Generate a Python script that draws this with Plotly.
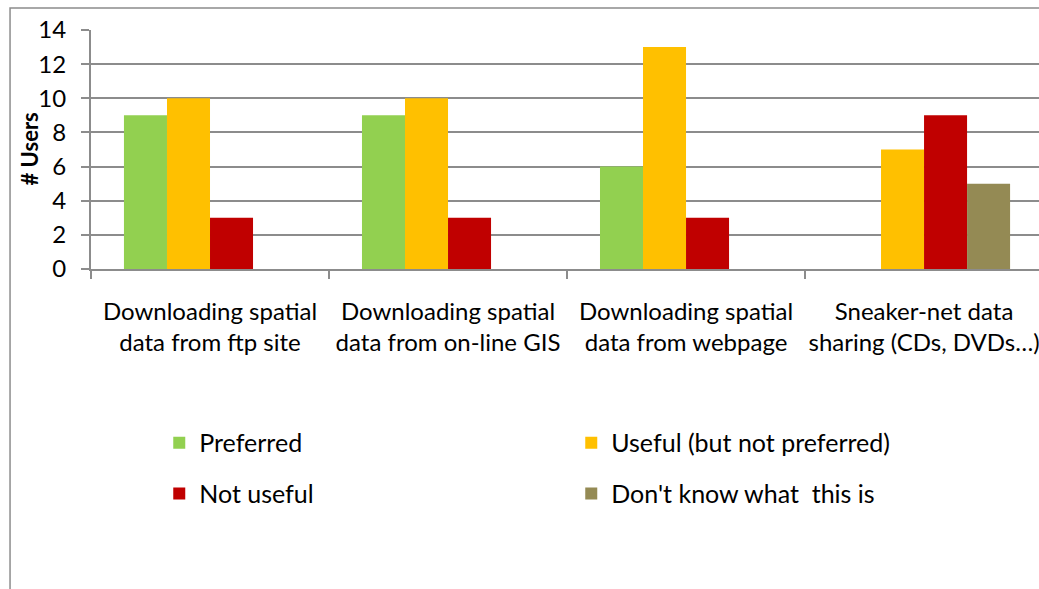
import plotly.graph_objects as go

categories = [
    "Downloading spatial<br>data from ftp site",
    "Downloading spatial<br>data from on-line GIS",
    "Downloading spatial<br>data from webpage",
    "Sneaker-net data<br>sharing (CDs, DVDs…)",
]
preferred = [9, 9, 6, 0]
useful = [10, 10, 13, 7]
not_useful = [3, 3, 3, 9]
dont_know = [0, 0, 0, 5]

series = [
    ("Preferred", preferred, "#92D050", "legend"),
    ("Useful (but not preferred)", useful, "#FFC000", "legend"),
    ("Not useful", not_useful, "#C00000", "legend2"),
    ("Don't know what  this is", dont_know, "#948A54", "legend2"),
]

FONT = "Lato"

fig = go.Figure()
for name, vals, color, lg in series:
    fig.add_trace(go.Bar(x=categories, y=vals, name=name, marker_color=color,
                         marker_line_width=0, legend=lg))

fig.update_layout(
    width=1039, height=589,
    margin=dict(l=91, r=0, t=30, b=320),
    paper_bgcolor="white", plot_bgcolor="white",
    barmode="group", bargap=0.277, bargroupgap=0,
    font=dict(family=FONT, size=20, color="black"),
    xaxis=dict(
        range=[-0.5, 3.483], showgrid=False, automargin=False,
        showline=True, linecolor="#8c8c8c", linewidth=2,
        ticks="outside", tickson="boundaries", ticklen=8, tickcolor="#8c8c8c", tickwidth=2,
        tickfont=dict(family=FONT, size=24), ticklabelstandoff=20,
    ),
    yaxis=dict(
        range=[0, 14], dtick=2, showgrid=True, gridcolor="#8c8c8c", gridwidth=2,
        showline=True, linecolor="#8c8c8c", linewidth=2, automargin=False,
        ticks="outside", ticklen=8, tickcolor="#8c8c8c", tickwidth=2,
        tickfont=dict(family=FONT, size=24), ticklabelstandoff=10,
        zeroline=False,
    ),
    annotations=[dict(text="<b># Users</b>", xref="paper", yref="paper",
                      x=-0.0654, y=0.5, textangle=-90, showarrow=False,
                      xanchor="center", yanchor="middle",
                      font=dict(family=FONT, size=22, color="black"))],
    legend=dict(orientation="h", x=0.072, xanchor="left", y=-0.728, yanchor="middle",
                entrywidth=367, font=dict(family=FONT, size=25), bgcolor="rgba(0,0,0,0)",
                traceorder="normal"),
    legend2=dict(orientation="h", x=0.072, xanchor="left", y=-0.94, yanchor="middle",
                 entrywidth=367, font=dict(family=FONT, size=25), bgcolor="rgba(0,0,0,0)",
                 traceorder="normal"),
    shapes=[dict(type="rect", xref="paper", yref="paper", x0=-0.0854, x1=1.2,
                 y0=-1.5, y1=1.092, line=dict(color="#8c8c8c", width=1.5),
                 fillcolor="rgba(0,0,0,0)", layer="below")],
)

fig.write_html("out.html", config={"displayModeBar": False},
               post_script="document.body.style.margin='0';document.body.style.overflow='hidden';")
